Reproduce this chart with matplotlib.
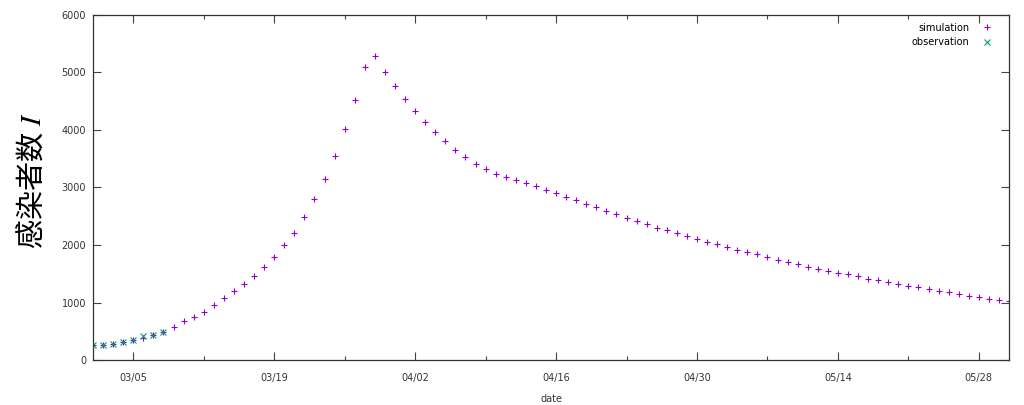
import pandas as pd
import matplotlib
matplotlib.use('Agg')
import matplotlib.pyplot as plt
import matplotlib.dates as mdates

plt.rcParams['font.family'] = ['DejaVu Sans']
plt.rcParams['mathtext.fontset'] = 'stix'

# データ
start_date = '2020-03-01'
end_date = '2020-05-31'
simulation = [255, 265, 285, 310, 340, 390, 432, 492, 580, 673,
              754, 841, 951, 1072, 1200, 1322, 1455, 1612, 1786, 1994,
              2214, 2487, 2795, 3148, 3553, 4012, 4516, 5090, 5281, 5003,
              4771, 4539, 4330, 4145, 3960, 3803, 3652, 3525, 3403, 3322,
              3235, 3177, 3125, 3073, 3026, 2962, 2899, 2840, 2777, 2719,
              2656, 2597, 2534, 2470, 2412, 2360, 2301, 2255, 2203, 2151,
              2099, 2052, 2012, 1960, 1919, 1873, 1838, 1786, 1745, 1710,
              1664, 1623, 1588, 1548, 1512, 1490, 1455, 1414, 1386, 1351,
              1322, 1293, 1264, 1229, 1206, 1177, 1154, 1119, 1090, 1066,
              1043, 1020]
observation = [255, 261, 284, 307, 342, 417, 435, 481]

sim_dates = pd.date_range(start_date, periods=len(simulation), freq='D')
obs_dates = pd.date_range(start_date, periods=len(observation), freq='D')
major_dates = pd.date_range('2020-03-05', end_date, freq='14D')
minor_dates = pd.date_range('2020-03-12', end_date, freq='14D')

fig = plt.figure(figsize=(10.24, 4.05), dpi=100)
ax = fig.add_axes([0.0908, 0.1111, 0.8946, 0.8519])

ax.plot(sim_dates, simulation, linestyle='none', marker='+', color='#9400D3',
        markersize=5, markeredgewidth=0.8, label='simulation')
ax.plot(obs_dates, observation, linestyle='none', marker='x', color='#009E73',
        markersize=4, markeredgewidth=0.8, label='observation')

ax.set_xlim(sim_dates[0], sim_dates[-1])
ax.set_ylim(0, 6000)
ax.set_yticks(range(0, 6001, 1000))

ax.xaxis.set_major_locator(mdates.ticker.FixedLocator(mdates.date2num(major_dates)))
ax.xaxis.set_minor_locator(mdates.ticker.FixedLocator(mdates.date2num(minor_dates)))
ax.xaxis.set_major_formatter(mdates.DateFormatter('%m/%d'))

ax.tick_params(which='both', direction='in', top=True, right=True,
               labelsize=7, labelcolor='#333333', color='#444444')
ax.tick_params(axis='x', pad=9)
ax.tick_params(axis='y', pad=5)
ax.tick_params(which='major', length=6, width=0.8)
ax.tick_params(which='minor', length=3, width=0.8)
for s in ax.spines.values():
    s.set_color('#333333')
    s.set_linewidth(0.9)

ax.set_xlabel('date', fontsize=7, color='#333333', labelpad=8)
ax.set_ylabel('感染者数 $I$', fontsize=21,
              family=['Noto Sans CJK JP', 'DejaVu Sans'])
ax.yaxis.set_label_coords(-0.05, 0.52)

ax.legend(loc='upper right', bbox_to_anchor=(0.991, 1.0), frameon=False,
          markerfirst=False, fontsize=7, handlelength=1.2, handletextpad=1.2,
          borderaxespad=0.4, labelspacing=0.45)

plt.savefig('out.png', dpi=100)
plt.close()
